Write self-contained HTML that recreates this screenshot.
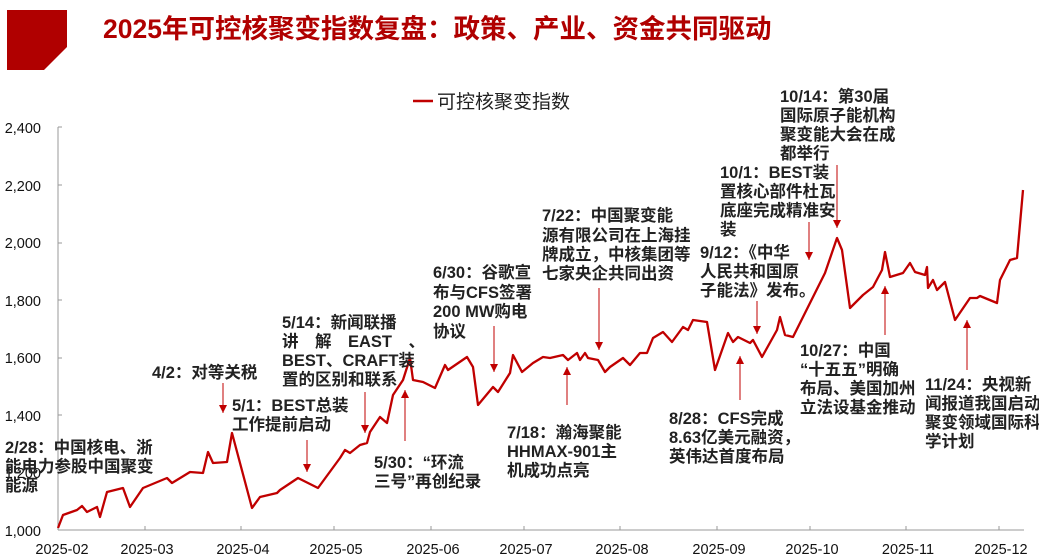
<!DOCTYPE html>
<html><head><meta charset="utf-8"><style>
html,body{margin:0;padding:0;background:#fff;}
svg{display:block;font-family:"Liberation Sans","Noto Sans CJK SC",sans-serif;}
.a{font-size:16.5px;font-weight:bold;fill:#222;}
.t{font-size:14.5px;fill:#111;}
</style></head><body>
<svg width="1039" height="558" viewBox="0 0 1039 558">
<defs><marker id="ah" markerWidth="8" markerHeight="8" refX="8" refY="4" orient="auto" markerUnits="userSpaceOnUse"><path d="M0,0 L8,4 L0,8 z" fill="#c00000"/></marker></defs>
<polygon points="7,10 67,10 67,47 44,70 7,70" fill="#b00000"/>
<text x="103" y="38" font-size="26.5" font-weight="bold" fill="#b00000">2025年可控核聚变指数复盘：政策、产业、资金共同驱动</text>
<line x1="413" y1="101" x2="433" y2="101" stroke="#c00000" stroke-width="2.5"/>
<text x="437" y="108" font-size="19" fill="#222">可控核聚变指数</text>
<line x1="58" y1="127" x2="58" y2="530" stroke="#999"/>
<line x1="58" y1="530" x2="1024" y2="530" stroke="#999"/>
<g stroke="#999">
<line x1="58" y1="127" x2="62" y2="127"/><line x1="58" y1="185" x2="62" y2="185"/><line x1="58" y1="243" x2="62" y2="243"/><line x1="58" y1="300" x2="62" y2="300"/><line x1="58" y1="358" x2="62" y2="358"/><line x1="58" y1="415" x2="62" y2="415"/><line x1="58" y1="473" x2="62" y2="473"/>
<line x1="145" y1="530" x2="145" y2="526"/><line x1="241" y1="530" x2="241" y2="526"/><line x1="334" y1="530" x2="334" y2="526"/><line x1="431" y1="530" x2="431" y2="526"/><line x1="524" y1="530" x2="524" y2="526"/><line x1="620" y1="530" x2="620" y2="526"/><line x1="717" y1="530" x2="717" y2="526"/><line x1="810" y1="530" x2="810" y2="526"/><line x1="906" y1="530" x2="906" y2="526"/><line x1="999" y1="530" x2="999" y2="526"/>
</g>
<g class="t" text-anchor="end">
<text x="41" y="133">2,400</text><text x="41" y="191">2,200</text><text x="41" y="248">2,000</text><text x="41" y="306">1,800</text><text x="41" y="363">1,600</text><text x="41" y="421">1,400</text><text x="41" y="478">1,200</text><text x="41" y="536">1,000</text>
</g>
<g class="t" text-anchor="middle">
<text x="62" y="554">2025-02</text><text x="147" y="554">2025-03</text><text x="243" y="554">2025-04</text><text x="336" y="554">2025-05</text><text x="433" y="554">2025-06</text><text x="526" y="554">2025-07</text><text x="622" y="554">2025-08</text><text x="719" y="554">2025-09</text><text x="812" y="554">2025-10</text><text x="908" y="554">2025-11</text><text x="1001" y="554">2025-12</text>
</g>
<polyline fill="none" stroke="#c00000" stroke-width="2.3" stroke-linejoin="round" points="58,528 63,515 77,510 82,506 87,512 97,507 100,517 107,492 123,488 130,507 143,488 167,478 172,483 190,472 203,473 208,452 213,463 227,462 232,433 252,508 260,497 277,493 280,490 298,478 318,488 340,458 345,450 350,453 360,445 367,443 370,432 380,417 387,423 393,395 403,380 410,358 413,380 423,382 435,388 445,365 448,370 467,357 473,367 478,405 493,387 498,392 510,373 513,355 522,372 533,363 543,357 550,358 563,355 568,360 577,353 580,360 585,353 588,358 598,360 605,372 610,367 623,358 630,365 640,353 647,353 653,338 663,332 672,342 683,327 688,330 693,320 707,322 715,370 728,333 733,342 738,337 750,343 753,340 762,357 777,330 780,317 785,335 793,337 825,273 837,238 842,250 850,308 863,295 873,287 882,270 885,252 890,277 903,273 910,263 915,272 925,275 927,267 928,288 933,280 937,290 945,282 955,320 970,298 977,298 980,296 997,303 1000,280 1010,260 1017,258 1023,190"/>
<g stroke="#c00000" stroke-width="1">
<line x1="223" y1="383" x2="223" y2="413" marker-end="url(#ah)"/>
<line x1="307" y1="440" x2="307" y2="472" marker-end="url(#ah)"/>
<line x1="365" y1="392" x2="365" y2="433" marker-end="url(#ah)"/>
<line x1="405" y1="441" x2="405" y2="390" marker-end="url(#ah)"/>
<line x1="494" y1="326" x2="494" y2="372" marker-end="url(#ah)"/>
<line x1="567" y1="405" x2="567" y2="367" marker-end="url(#ah)"/>
<line x1="599" y1="288" x2="599" y2="350" marker-end="url(#ah)"/>
<line x1="740" y1="400" x2="740" y2="356" marker-end="url(#ah)"/>
<line x1="757" y1="301" x2="757" y2="334" marker-end="url(#ah)"/>
<line x1="809" y1="222" x2="809" y2="260" marker-end="url(#ah)"/>
<line x1="837" y1="165" x2="837" y2="228" marker-end="url(#ah)"/>
<line x1="885" y1="335" x2="885" y2="286" marker-end="url(#ah)"/>
<line x1="967" y1="370" x2="967" y2="320" marker-end="url(#ah)"/>
</g>
<g class="a">
<text x="5" y="453">2/28：中国核电、浙</text><text x="5" y="472">能电力参股中国聚变</text><text x="5" y="491">能源</text>
<text x="152" y="378">4/2：对等关税</text>
<text x="232" y="411">5/1：BEST总装</text><text x="232" y="430">工作提前启动</text>
<text x="282" y="328">5/14：新闻联播</text><text x="282" y="347">讲　解　EAST　、</text><text x="282" y="366">BEST、CRAFT装</text><text x="282" y="385">置的区别和联系</text>
<text x="374" y="468">5/30：“环流</text><text x="374" y="487">三号”再创纪录</text>
<text x="433" y="278">6/30：谷歌宣</text><text x="433" y="298">布与CFS签署</text><text x="433" y="317"> 200 MW购电</text><text x="433" y="337">协议</text>
<text x="507" y="438">7/18：瀚海聚能</text><text x="507" y="457">HHMAX-901主</text><text x="507" y="476">机成功点亮</text>
<text x="542" y="221">7/22：中国聚变能</text><text x="542" y="241">源有限公司在上海挂</text><text x="542" y="260">牌成立，中核集团等</text><text x="542" y="279">七家央企共同出资</text>
<text x="669" y="424">8/28：CFS完成</text><text x="669" y="443">8.63亿美元融资，</text><text x="669" y="462">英伟达首度布局</text>
<text x="700" y="258">9/12：《中华</text><text x="700" y="277">人民共和国原</text><text x="700" y="296">子能法》发布。</text>
<text x="720" y="178">10/1：BEST装</text><text x="720" y="197">置核心部件杜瓦</text><text x="720" y="216">底座完成精准安</text><text x="720" y="235">装</text>
<text x="780" y="102">10/14：第30届</text><text x="780" y="121">国际原子能机构</text><text x="780" y="140">聚变能大会在成</text><text x="780" y="159">都举行</text>
<text x="800" y="356">10/27：中国</text><text x="800" y="375">“十五五”明确</text><text x="800" y="394">布局、美国加州</text><text x="800" y="413">立法设基金推动</text>
<text x="925" y="390">11/24：央视新</text><text x="925" y="409">闻报道我国启动</text><text x="925" y="428">聚变领域国际科</text><text x="925" y="447">学计划</text>
</g>
</svg>
</body></html>
